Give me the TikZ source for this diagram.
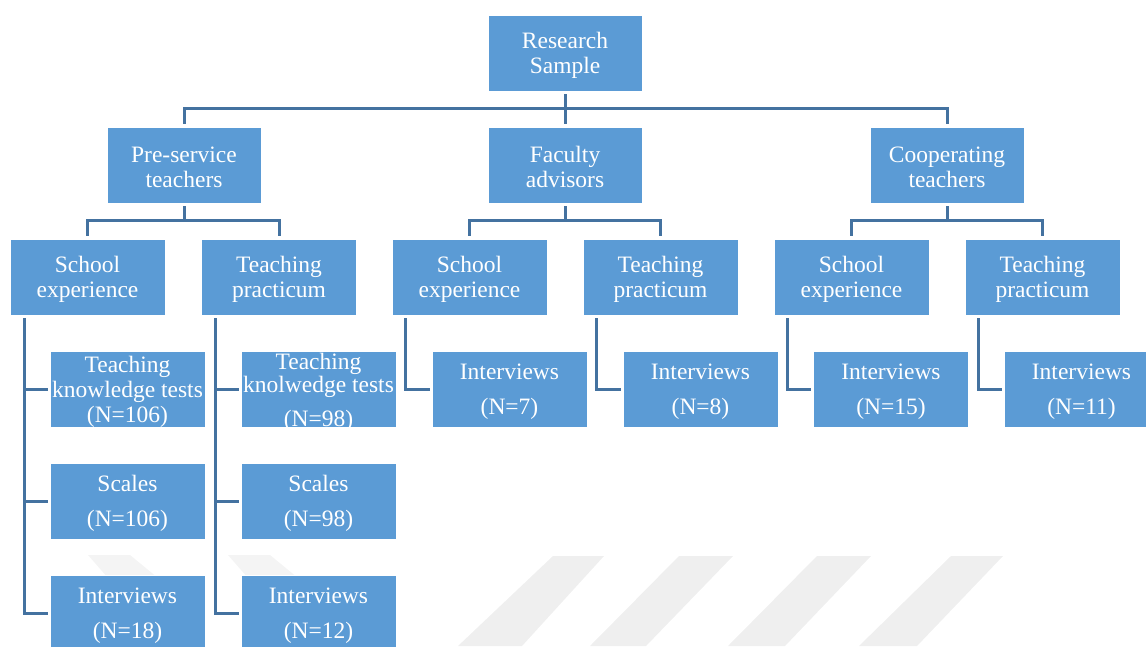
\documentclass[tikz,border=0pt]{standalone}
\usepackage{fontspec}
\setmainfont{Liberation Serif}
\definecolor{boxblue}{RGB}{91,155,213}
\definecolor{linkblue}{RGB}{68,114,160}
\definecolor{wmark}{RGB}{239,239,239}
% a taller first line lowers the text block slightly inside its box
\newcommand{\topgap}{\rule{0pt}{21pt}}
\tikzset{
  box/.style={rectangle, fill=boxblue, draw=white, line width=0.8pt,
    minimum width=155pt, minimum height=76pt, inner sep=0pt,
    text=white, align=center, font=\fontsize{23.5}{25}\selectfont},
  lbl/.style={text=white, align=center, inner sep=0pt,
    font=\fontsize{23.5}{25}\selectfont},
  link/.style={draw=linkblue, line width=3pt, shorten <=3pt, shorten >=3pt},
  sidelink/.style={draw=linkblue, line width=3pt, shorten <=3pt, shorten >=2pt},
}
\begin{document}
\begin{tikzpicture}[x=1pt, y=-1pt]
\useasboundingbox (0,0) rectangle (1146,646);
\clip (0,0) rectangle (1146,646);

% faint background stripes
\fill[wmark] (553,556) -- (604,556) -- (522,646) -- (458,646) -- cycle;
\fill[wmark] (679,556) -- (733,556) -- (646,646) -- (590,646) -- cycle;
\fill[wmark] (817,556) -- (871,556) -- (785,646) -- (728,646) -- cycle;
\fill[wmark] (951,556) -- (1003,556) -- (917,646) -- (859,646) -- cycle;
\fill[wmark!70!white] (88,555) -- (130,555) -- (158,578) -- (108,578) -- cycle;
\fill[wmark!70!white] (228,555) -- (270,555) -- (298,578) -- (248,578) -- cycle;

% top level
\node[box, minimum width=154pt] (root) at (565,53) {\topgap Research\\Sample};

% groups
\node[box, minimum width=154pt] (pre)  at (184,165) {\topgap Pre-service\\teachers};
\node[box, minimum width=154pt] (fac)  at (565,165) {\topgap Faculty\\advisors};
\node[box, minimum width=154pt] (coop) at (947,165) {\topgap Cooperating\\teachers};

% placements
\node[box] (se1) at (87.5,277)   {\topgap School\\experience};
\node[box] (tp1) at (279,277)    {\topgap Teaching\\practicum};
\node[box] (se2) at (469.5,277)  {\topgap School\\experience};
\node[box] (tp2) at (660.5,277)  {\topgap Teaching\\practicum};
\node[box] (se3) at (851.5,277)  {\topgap School\\experience};
\node[box] (tp3) at (1042.5,277) {\topgap Teaching\\practicum};

% data sources
\node[box] (tk1) at (127.5,389) {\topgap Teaching\\knowledge tests\\(N=106)};
\node[box] (sc1) at (127.5,501) {\topgap Scales\\[10pt](N=106)};
\node[box] (iv1) at (127.5,613) {\topgap Interviews\\[10pt](N=18)};

\node[box] (tk2) at (318.5,389) {};
\begin{scope}
  \clip (tk2.south west) rectangle (tk2.north east);
  \node[lbl] (tk2t) at (318.5,392) {Teaching\\[-2pt]knolwedge tests\\[9pt](N=98)};
\end{scope}
\node[box] (sc2) at (318.5,501) {\topgap Scales\\[10pt](N=98)};
\node[box] (iv2) at (318.5,613) {\topgap Interviews\\[10pt](N=12)};

\node[box] (ivf1) at (509.5,389)  {\topgap Interviews\\[10pt](N=7)};
\node[box] (ivf2) at (700.5,389)  {\topgap Interviews\\[10pt](N=8)};
\node[box] (ivc1) at (891,389)    {\topgap Interviews\\[10pt](N=15)};
\node[box] (ivc2) at (1081.5,389) {\topgap Interviews\\[10pt](N=11)};

% tree connectors
\foreach \c in {pre,fac,coop}
  \draw[link] (root.south) -- ++(0,17) -| (\c.north);
\draw[link] (pre.south)  -- ++(0,17) -| (se1.north);
\draw[link] (pre.south)  -- ++(0,17) -| (tp1.north);
\draw[link] (fac.south)  -- ++(0,17) -| (se2.north);
\draw[link] (fac.south)  -- ++(0,17) -| (tp2.north);
\draw[link] (coop.south) -- ++(0,17) -| (se3.north);
\draw[link] (coop.south) -- ++(0,17) -| (tp3.north);

% side connectors
\foreach \c in {tk1,sc1,iv1}
  \draw[sidelink] ([xshift=15pt]se1.south west) |- (\c.west);
\foreach \c in {tk2,sc2,iv2}
  \draw[sidelink] ([xshift=14pt]tp1.south west) |- (\c.west);
\draw[sidelink] ([xshift=14pt]se2.south west) |- (ivf1.west);
\draw[sidelink] ([xshift=14pt]tp2.south west) |- (ivf2.west);
\draw[sidelink] ([xshift=14pt]se3.south west) |- (ivc1.west);
\draw[sidelink] ([xshift=14pt]tp3.south west) |- (ivc2.west);
\end{tikzpicture}
\end{document}
